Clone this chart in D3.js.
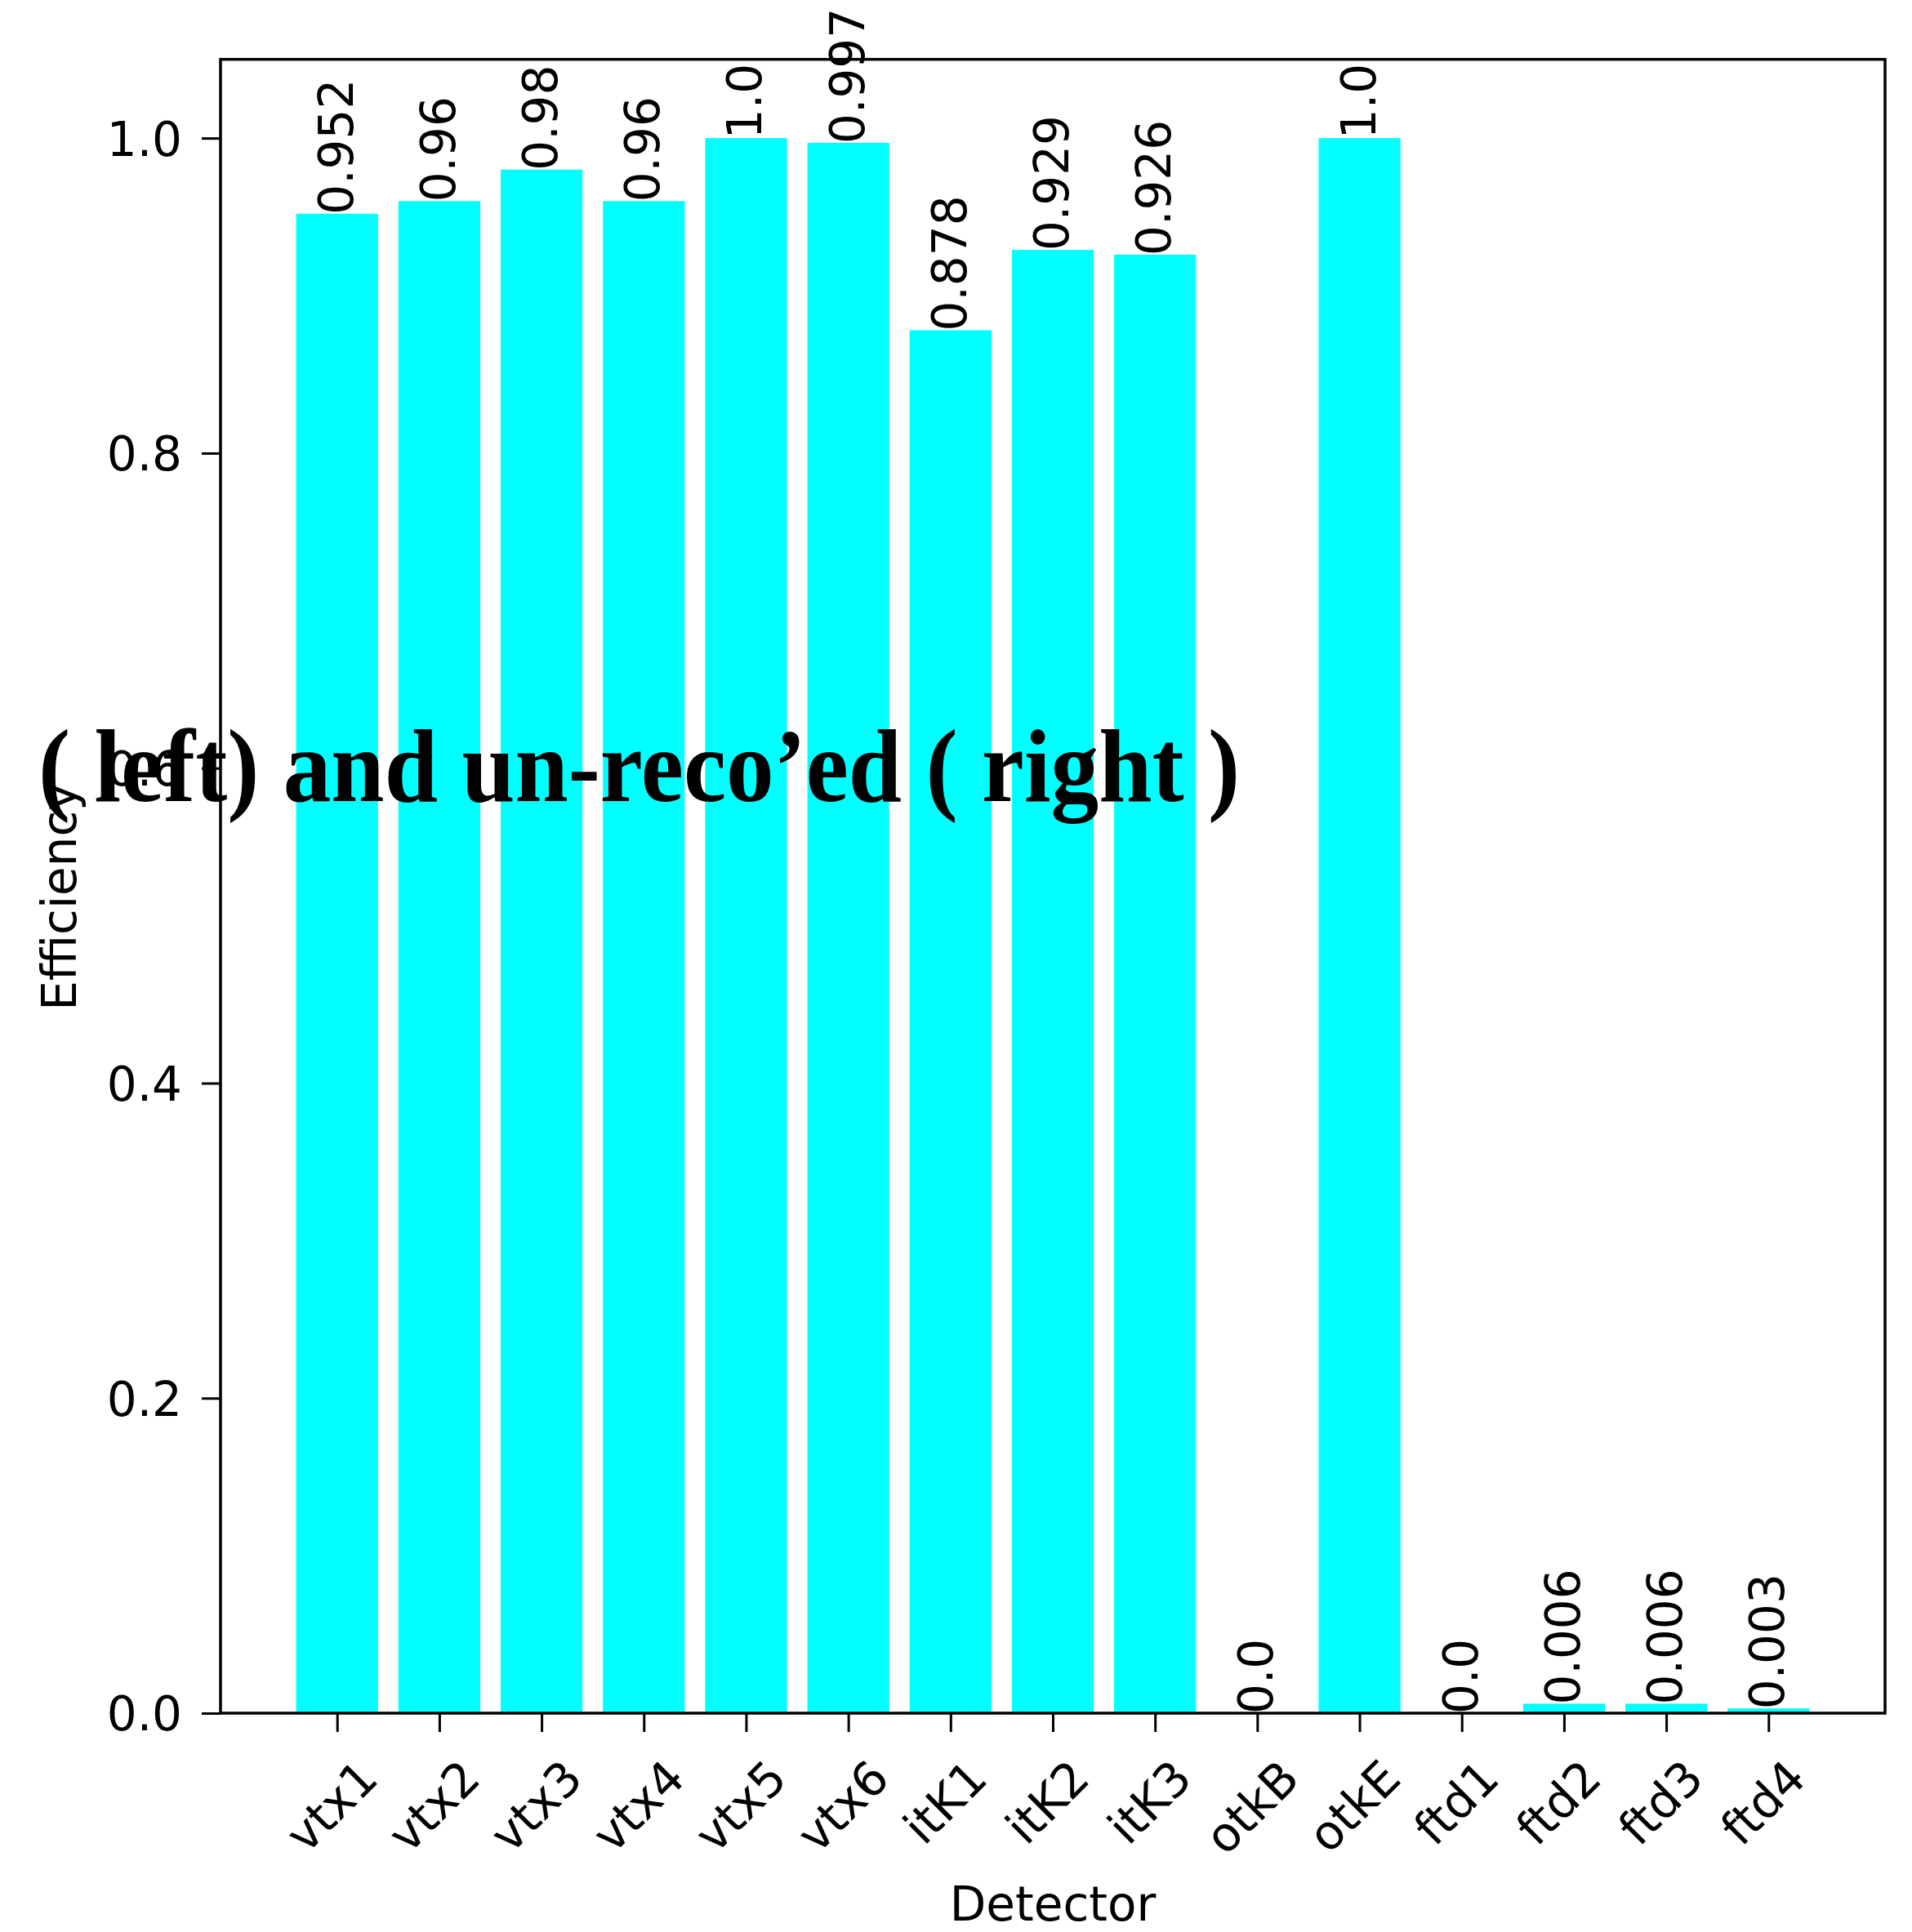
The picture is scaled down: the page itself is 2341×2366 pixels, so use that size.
<!DOCTYPE html>
<html>
<head>
<meta charset="utf-8">
<script src="https://cdn.jsdelivr.net/npm/d3@7"></script>
<style>
  html, body { margin: 0; padding: 0; background: #ffffff; }
  svg { display: block; }
</style>
</head>
<body>
<svg id="chart" width="2341" height="2366"></svg>
<script>
const detectors = ["vtx1", "vtx2", "vtx3", "vtx4", "vtx5", "vtx6", "itK1", "itK2", "itK3", "otkB", "otkE", "ftd1", "ftd2", "ftd3", "ftd4"];
const efficiency = [0.952, 0.96, 0.98, 0.96, 1.0, 0.997, 0.878, 0.929, 0.926, 0.0, 1.0, 0.0, 0.006, 0.006, 0.003];
const yTicks = [0.0, 0.2, 0.4, 0.6, 0.8, 1.0];
const xLabel = "Detector";
const yLabel = "Efficiency";
const overlayText = "( left) and un-reco\u2019ed ( right )";

(function () {
const W = 2341, H = 2366;
const pLeft = 270, pRight = 2308, pTop = 72.7, pBottom = 2098;
const FONT = "'DejaVu Sans', sans-serif";
const FS = 58;

const svg = d3.select("#chart");
svg.append("rect").attr("width", W).attr("height", H).attr("fill", "#ffffff");

const x = d3.scaleLinear().domain([-1.14, 15.14]).range([pLeft, pRight]);
const y = d3.scaleLinear().domain([0, 1.05]).range([pBottom, pTop]);

const fmt = v => Number.isInteger(v) ? v.toFixed(1) : String(v);

// Bars
svg.append("g").selectAll("rect").data(efficiency).join("rect")
  .attr("x", (d, i) => x(i - 0.4))
  .attr("width", (d, i) => x(i + 0.4) - x(i - 0.4))
  .attr("y", d => y(d))
  .attr("height", d => y(0) - y(d))
  .attr("fill", "#00ffff");

// Bar value labels
svg.append("g").selectAll("text").data(efficiency).join("text")
  .attr("transform", (d, i) => `translate(${x(i) + 19},${y(d) + 1}) rotate(-90)`)
  .attr("text-anchor", "start")
  .attr("font-family", FONT)
  .attr("font-size", FS)
  .attr("fill", "#000")
  .text(d => fmt(d));

// Y axis
const yAxis = d3.axisLeft(y).tickValues(yTicks).tickFormat(d => d.toFixed(1)).tickSize(23).tickPadding(24);
const gy = svg.append("g").attr("transform", `translate(${pLeft},0)`).call(yAxis);
gy.select(".domain").remove();
gy.selectAll(".tick line").attr("stroke", "#000").attr("stroke-width", 3);
gy.selectAll(".tick text").attr("font-family", FONT).attr("font-size", FS).attr("fill", "#000").attr("dy", "0.36em");

// X axis
const xAxis = d3.axisBottom(x).tickValues(d3.range(detectors.length)).tickFormat(i => detectors[i]).tickSize(23);
const gx = svg.append("g").attr("transform", `translate(0,${pBottom})`).call(xAxis);
gx.select(".domain").remove();
gx.selectAll(".tick line").attr("stroke", "#000").attr("stroke-width", 3);
gx.selectAll(".tick text")
  .attr("font-family", FONT).attr("font-size", FS).attr("fill", "#000")
  .attr("text-anchor", "middle").attr("dy", null).attr("y", null)
  .attr("dominant-baseline", "central")
  .each(function () {
    const t = d3.select(this);
    const L = this.getComputedTextLength();
    const cy = (2152 - pBottom) + (L + 42) / (2 * Math.SQRT2);
    t.attr("transform", `translate(-7,${cy}) rotate(-45)`);
  });

// Frame
svg.append("rect")
  .attr("x", pLeft).attr("y", pTop)
  .attr("width", pRight - pLeft).attr("height", pBottom - pTop)
  .attr("fill", "none").attr("stroke", "#000").attr("stroke-width", 3.5);

// Axis labels
svg.append("text")
  .attr("x", (pLeft + pRight) / 2).attr("y", 2352)
  .attr("text-anchor", "middle")
  .attr("font-family", FONT).attr("font-size", FS).attr("fill", "#000")
  .text(xLabel);

svg.append("text")
  .attr("transform", `translate(93,1098) rotate(-90)`)
  .attr("text-anchor", "middle")
  .attr("font-family", FONT).attr("font-size", FS).attr("fill", "#000")
  .text(yLabel);

// Overlay text
svg.append("text")
  .attr("x", 47).attr("y", 981)
  .attr("font-family", "'Liberation Serif', 'Times New Roman', serif")
  .attr("font-weight", "bold")
  .attr("font-size", 127)
  .attr("textLength", 1471)
  .attr("lengthAdjust", "spacingAndGlyphs")
  .attr("fill", "#000")
  .text(overlayText);
})();
</script>
</body>
</html>
